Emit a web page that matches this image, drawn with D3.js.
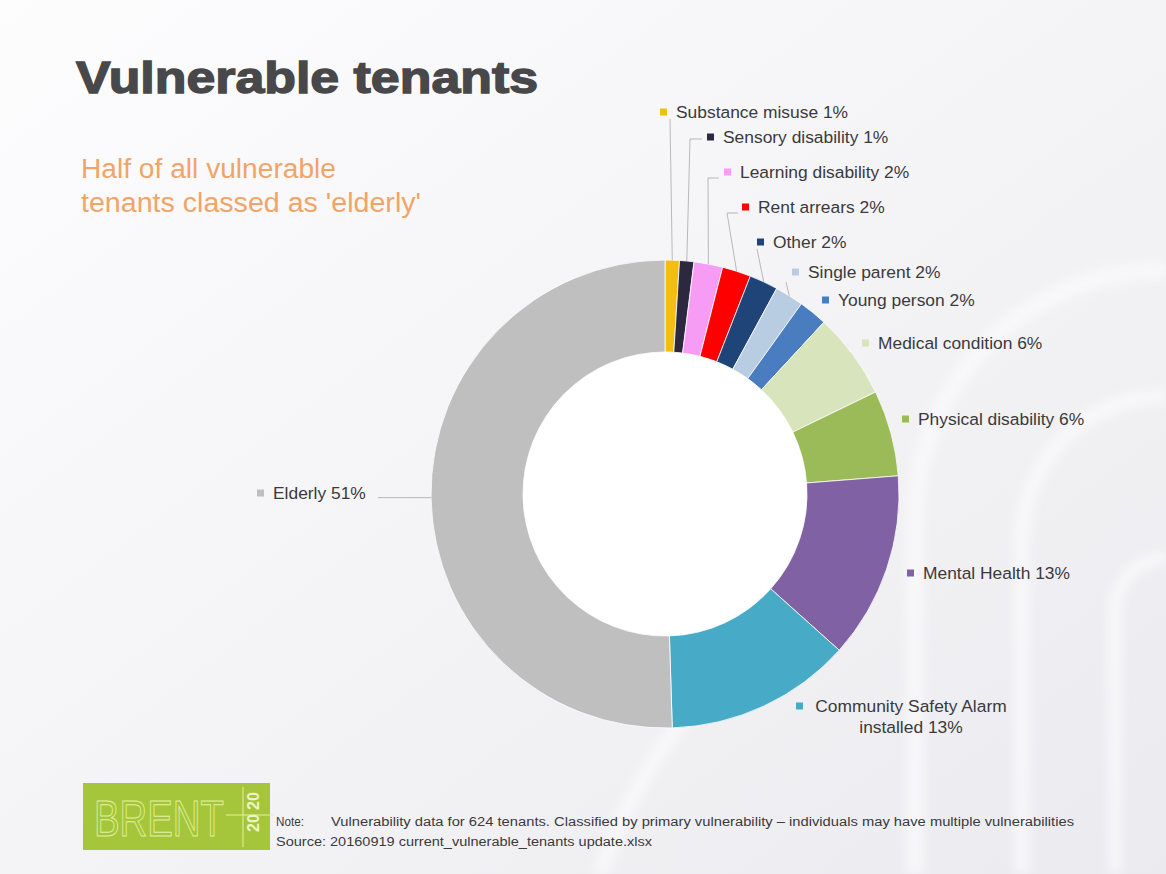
<!DOCTYPE html>
<html>
<head>
<meta charset="utf-8">
<script src="https://cdn.jsdelivr.net/npm/d3@7/dist/d3.min.js"></script>
<style>
  html, body { margin: 0; padding: 0; background: #f3f3f6; }
  svg { display: block; }
  text { font-family: "Liberation Sans", Arial, sans-serif; }
</style>
</head>
<body>
<svg id="chart" width="1166" height="874"></svg>
<script>
// Vulnerability categories, clockwise from 12 o'clock
const categories = [
  "Substance misuse", "Sensory disability", "Learning disability", "Rent arrears",
  "Other", "Single parent", "Young person", "Medical condition",
  "Physical disability", "Mental Health", "Community Safety Alarm installed", "Elderly"
];
// Share of vulnerable tenants (%)
const shares = [1, 1, 2, 2, 2, 2, 2, 6, 6, 13, 13, 51];
const sliceColors = [
  "#f5bd12", "#2c2840", "#f79cf4", "#ff0000",
  "#1f4478", "#b8cce2", "#4a7cc0", "#d8e4bc",
  "#9bbb59", "#8062a4", "#47abc8", "#bfbfbf"
];

const titleText = "Vulnerable tenants";
const subtitleLines = ["Half of all vulnerable", "tenants classed as 'elderly'"];
const noteText = "Vulnerability data for 624 tenants. Classified by primary vulnerability \u2013 individuals may have multiple vulnerabilities";
const sourceText = "Source: 20160919 current_vulnerable_tenants update.xlsx";

// Label placement (key square left edge, vertical centre)
const labelLayout = [
  [660, 112], [707, 137], [724, 172], [742, 207],
  [757, 242], [792, 272], [822, 300], [862, 343],
  [902, 419], [907, 573], [796, 706], [257, 493]
];
// Leader-line bends, from the slice edge to its label
const leaderBends = {
  0: [[670, 119]],
  1: [[690, 139], [702, 139]],
  2: [[708, 178], [719, 178]],
  3: [[727, 213], [738, 213]],
  4: [[757, 249]],
  5: [[786, 282]],
  11: [[378, null]]
};

const W = 1166, H = 874;
const cx = 665, cy = 494, rOuter = 234, rInner = 142;

const svg = d3.select("#chart");
const defs = svg.append("defs");

// Slide background
const bg = defs.append("linearGradient").attr("id", "bg")
  .attr("x1", "0").attr("y1", "0").attr("x2", "1").attr("y2", "1");
bg.append("stop").attr("offset", "0").attr("stop-color", "#fdfdfe");
bg.append("stop").attr("offset", "0.5").attr("stop-color", "#f4f4f7");
bg.append("stop").attr("offset", "1").attr("stop-color", "#ebebef");
svg.append("rect").attr("width", W).attr("height", H).attr("fill", "url(#bg)");

const soft = defs.append("filter").attr("id", "soft");
soft.append("feGaussianBlur").attr("stdDeviation", 5);

// Faint arch watermark on the right of the slide
const wm = svg.append("g").attr("fill", "none").attr("stroke", "#fbfbfd")
  .attr("stroke-opacity", 0.7).attr("filter", "url(#soft)");
wm.append("path").attr("stroke-width", 18)
  .attr("d", "M915,874 L915,520 A250,250 0 0 1 1166,270");
wm.append("path").attr("stroke-width", 16)
  .attr("d", "M1022,874 L1022,540 A144,144 0 0 1 1166,396");
wm.append("path").attr("stroke-width", 14)
  .attr("d", "M1115,874 L1115,610 A52,52 0 0 1 1166,558");
wm.append("path").attr("stroke-width", 16)
  .attr("d", "M600,874 A520,520 0 0 1 760,640");

// Title and subtitle
svg.append("text").attr("x", 76).attr("y", 93)
  .attr("font-size", 44).attr("font-weight", "bold")
  .attr("fill", "#48484a").attr("stroke", "#48484a").attr("stroke-width", 1.4)
  .attr("textLength", 462).attr("lengthAdjust", "spacingAndGlyphs")
  .text(titleText);

const subtitleWidths = [255, 340];
svg.append("g").selectAll("text").data(subtitleLines).join("text")
  .attr("x", 81).attr("y", (d, i) => 178 + i * 34)
  .attr("font-size", 27).attr("fill", "#f2a468")
  .attr("textLength", (d, i) => subtitleWidths[i]).attr("lengthAdjust", "spacingAndGlyphs")
  .text(d => d);

// Donut
const pie = d3.pie().sort(null).value(d => d);
const arcs = pie(shares);
const arc = d3.arc().innerRadius(rInner).outerRadius(rOuter);

const donut = svg.append("g").attr("transform", `translate(${cx},${cy})`);
donut.append("circle").attr("r", rInner).attr("fill", "#ffffff");
donut.selectAll("path").data(arcs).join("path")
  .attr("d", arc)
  .attr("fill", (d, i) => sliceColors[i])
  .attr("stroke", "#ffffff").attr("stroke-width", 0.8);

// Leader lines
const edgePoint = d => {
  const a = (d.startAngle + d.endAngle) / 2;
  return [cx + Math.sin(a) * rOuter, cy - Math.cos(a) * rOuter];
};
const line = d3.line();
Object.keys(leaderBends).forEach(k => {
  const i = +k;
  const p0 = edgePoint(arcs[i]);
  const pts = [p0].concat(leaderBends[i].map(p => [p[0], p[1] === null ? p0[1] : p[1]]));
  svg.append("path").attr("d", line(pts))
    .attr("fill", "none").attr("stroke", "#a8a8ad").attr("stroke-width", 0.8);
});

// Data labels with colour keys
const labels = svg.append("g").attr("font-size", 17.4).attr("fill", "#3a3a3c");
categories.forEach((name, i) => {
  const [lx, ly] = labelLayout[i];
  labels.append("rect").attr("x", lx).attr("y", ly - 3.5)
    .attr("width", 7).attr("height", 7).attr("fill", sliceColors[i]);
  const txt = `${name} ${shares[i]}%`;
  if (name.length > 25) {
    const words = name.split(" ");
    const first = words.slice(0, 3).join(" ");
    const second = `${words.slice(3).join(" ")} ${shares[i]}%`;
    labels.append("text").attr("x", 911).attr("y", ly).attr("dy", "0.35em")
      .attr("text-anchor", "middle").text(first);
    labels.append("text").attr("x", 911).attr("y", ly + 21).attr("dy", "0.35em")
      .attr("text-anchor", "middle").text(second);
  } else {
    labels.append("text").attr("x", lx + 16).attr("y", ly).attr("dy", "0.35em").text(txt);
  }
});

// Logo block
const logo = svg.append("g");
logo.append("rect").attr("x", 83).attr("y", 783).attr("width", 187).attr("height", 67)
  .attr("fill", "#a5c63b");
logo.append("text").attr("x", 94).attr("y", 836)
  .attr("font-size", 50).attr("fill", "none")
  .attr("stroke", "#e4f0a0").attr("stroke-width", 1)
  .attr("textLength", 130).attr("lengthAdjust", "spacingAndGlyphs")
  .text("BRENT");
logo.append("line").attr("x1", 226).attr("x2", 274).attr("y1", 815).attr("y2", 815)
  .attr("stroke", "#e4f0a0").attr("stroke-width", 1);
logo.append("line").attr("x1", 243).attr("x2", 243).attr("y1", 787).attr("y2", 847)
  .attr("stroke", "#e4f0a0").attr("stroke-width", 1);
logo.append("text").attr("transform", "translate(259,832) rotate(-90)")
  .attr("font-size", 16).attr("font-weight", "bold").attr("fill", "#eef5c4")
  .text("20");
logo.append("text").attr("transform", "translate(259,810) rotate(-90)")
  .attr("font-size", 16).attr("font-weight", "bold").attr("fill", "#eef5c4")
  .text("20");

// Footnote
const foot = svg.append("g").attr("font-size", 12).attr("fill", "#3a3a3c");
foot.append("text").attr("x", 276).attr("y", 826)
  .attr("textLength", 28).attr("lengthAdjust", "spacingAndGlyphs").text("Note:");
foot.append("text").attr("x", 331).attr("y", 826)
  .attr("textLength", 743).attr("lengthAdjust", "spacingAndGlyphs").text(noteText);
foot.append("text").attr("x", 276).attr("y", 846)
  .attr("textLength", 376).attr("lengthAdjust", "spacingAndGlyphs").text(sourceText);
</script>
</body>
</html>
